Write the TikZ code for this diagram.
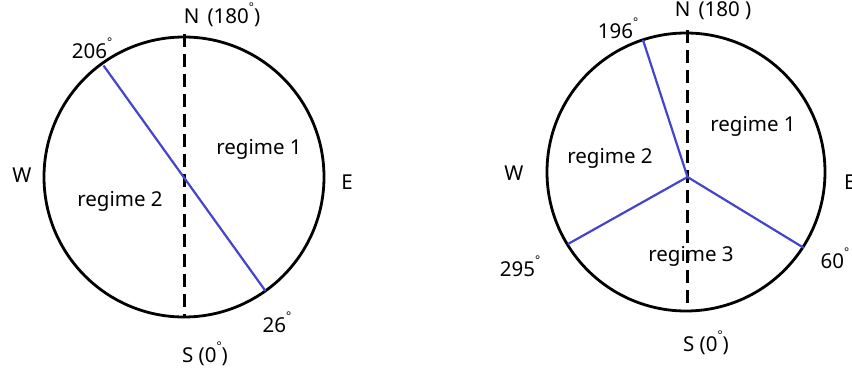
\documentclass[tikz,border=0pt]{standalone}
\usepackage{fontspec}
\setmainfont{Noto Sans}
\newcommand{\dg}{\raisebox{0.6em}{\fontsize{12}{12}\selectfont °}}
\definecolor{regblue}{RGB}{68,68,204}
\begin{document}
\begin{tikzpicture}[x=1pt,y=-1pt,
  rim/.style={draw=black,line width=2.8pt},
  axis/.style={draw=black,line width=3pt,dash pattern=on 13pt off 7pt},
  divider/.style={draw=regblue,line width=2.2pt},
  lbl/.style={font=\fontsize{20.5}{24}\selectfont,inner sep=0pt,text=black}]
\useasboundingbox (0,0) rectangle (852,375);
% ---------- left compass ----------
\coordinate (c1) at (184,177);
\draw[rim] (c1) circle[radius=140];
\coordinate (n1) at (184,34);
\coordinate (s1) at (184,318);
\draw[axis] (n1) -- (s1);
\path (c1) ++(-80.5,-111.5) coordinate (p206);
\path (c1) ++(81.5,114) coordinate (p26);
\draw[divider] (p206) -- (p26);
\node[lbl] (lN1) at (222,15) {N\hspace{0.4em}(180\dg)};
\node[lbl] (l206) at (92,48) {206\dg};
\node[lbl] (lW1) at (22,175) {W};
\node[lbl] (lE1) at (347,182) {E};
\node[lbl] (r11) at (259,149) {regime 1};
\node[lbl] (r21) at (120,201) {regime 2};
\node[lbl] (l26) at (277,322) {26\dg};
\node[lbl] (lS1) at (205,354) {S (0\dg)};
% ---------- right compass ----------
\coordinate (c2) at (686,172);
\draw[rim] (c2) circle[radius=139];
\coordinate (n2) at (687,30);
\coordinate (s2) at (687,312);
\draw[axis] (n2) -- (s2);
\coordinate (hub) at (687.5,177);
\path (c2) ++(-43,-132) coordinate (p196);
\path (c2) ++(-118,72) coordinate (p295);
\path (c2) ++(118,76) coordinate (p60);
\draw[divider] (p196) -- (hub) -- (p60);
\draw[divider] (p295) -- (hub);
\node[lbl] (lN2) at (713,8) {N\hspace{0.4em}(180\dg)};
\node[lbl] (l196) at (618,28) {196\dg};
\node[lbl] (lW2) at (514,173) {W};
\node[lbl,anchor=west] (lE2) at (844,182) {E};
\node[lbl] (l295) at (520,266) {295\dg};
\node[lbl] (l60) at (835,258) {60\dg};
\node[lbl] (r12) at (753,126) {regime 1};
\node[lbl] (r22) at (610,158) {regime 2};
\node[lbl] (r32) at (691,256) {regime 3};
\node[lbl] (lS2) at (706,343) {S (0\dg)};
\end{tikzpicture}
\end{document}
